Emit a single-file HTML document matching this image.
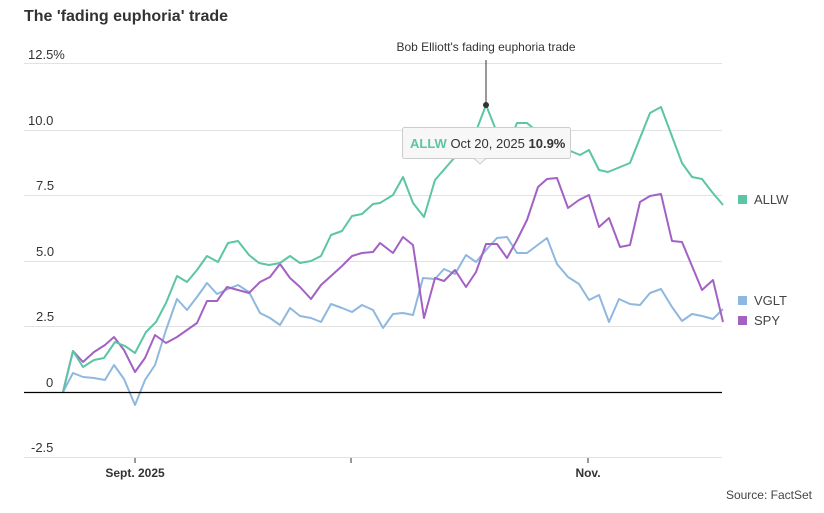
<!DOCTYPE html>
<html><head><style>
body{margin:0;background:#fff;width:824px;height:508px;overflow:hidden;font-family:"Liberation Sans",sans-serif}
</style></head><body>
<svg width="824" height="508" xmlns="http://www.w3.org/2000/svg" font-family="Liberation Sans, sans-serif">
<text x="24" y="21" font-size="16" font-weight="bold" fill="#333">The 'fading euphoria' trade</text>
<g stroke="#e2e2e2" stroke-width="1">
<line x1="24" x2="722" y1="63.5" y2="63.5"/><line x1="24" x2="722" y1="130.5" y2="130.5"/>
<line x1="24" x2="722" y1="195.5" y2="195.5"/><line x1="24" x2="722" y1="261.5" y2="261.5"/>
<line x1="24" x2="722" y1="326.5" y2="326.5"/><line x1="24" x2="722" y1="457.5" y2="457.5"/>
</g>
<g font-size="13" fill="#333">
<text x="28" y="59">12.5%</text><text x="28" y="125">10.0</text><text x="36" y="190">7.5</text>
<text x="36" y="256">5.0</text><text x="36" y="321">2.5</text><text x="46" y="387">0</text><text x="31" y="452">-2.5</text>
</g>
<g stroke="#333"><line x1="135" x2="135" y1="458" y2="463"/><line x1="351" x2="351" y1="458" y2="463"/><line x1="588" x2="588" y1="458" y2="463"/></g>
<g font-size="12" font-weight="bold" fill="#333"><text x="135" y="477" text-anchor="middle">Sept. 2025</text><text x="588" y="477" text-anchor="middle">Nov.</text></g>
<text x="812" y="499" font-size="12" fill="#444" text-anchor="end">Source: FactSet</text>
<g fill="none" stroke-width="2" stroke-linejoin="round">
<polyline stroke="#8fb8e0" points="63,392 73,373 83,377 94,378 105,380 114,365 124,379 135,405 145,380 155,365 166,330 177,299 187,310 197,297 207,283 217,294 228,289 238,285 249,292 260,313 270,318 280,325 290,308 300,316 311,318 321,322 331,304 342,308 352,312 362,305 373,310 383,328 393,314 403,313 413,315 423,278 435,279 444,269 455,274 466,255 476,262 486,250 497,238 507,237 517,253 527,253 547,238 557,264 568,277 579,284 589,300 599,295 609,322 619,299 630,304 640,305 650,293 661,289 672,307 682,321 692,314 702,316 713,319 723,309"/>
<polyline stroke="#a361c4" points="63,392 73,351 83,362 94,352 105,345 114,337 124,350 135,372 145,358 155,335 166,343 177,337 187,330 197,323 207,301 217,301 227,287 238,290 249,293 260,282 270,277 280,264 290,278 300,287 311,299 321,285 331,276 342,266 352,256 362,253 373,252 380,243 393,253 403,237 413,245 424,318 435,278 444,281 455,270 466,287 476,272 486,244 497,244 507,258 517,240 527,220 538,187 547,179 557,178 568,208 579,200 589,195 599,227 609,218 620,247 630,245 640,202 650,196 661,194 672,241 682,242 692,266 702,290 713,280 723,322"/>
<polyline stroke="#5cc5a5" points="63,392 73,351 83,367 94,360 104,358 115,342 125,346 135,353 146,332 156,322 166,303 177,276 187,282 197,270 207,256 218,262 228,243 238,241 249,255 259,263 269,265 280,263 290,256 300,263 311,261 321,256 331,235 342,231 352,216 362,214 373,204 380,203 393,195 403,177 413,203 424,217 435,180 455,157 465,146 475,134 486,105 496,130 507,147 517,123 527,123 533,128 548,143 568,150 580,155 589,150 599,170 608,172 630,163 650,113 661,107 682,163 692,177 702,179 712,192 723,205"/>
</g>
<line x1="24" x2="722" y1="392.5" y2="392.5" stroke="#000" stroke-width="1.3"/>
<line x1="486" x2="486" y1="60" y2="105" stroke="#333" stroke-width="1"/>
<circle cx="486" cy="105" r="3" fill="#333"/>
<text x="486" y="51" font-size="12" fill="#333" text-anchor="middle">Bob Elliott's fading euphoria trade</text>
<rect x="402.5" y="127.5" width="168" height="31" rx="2" fill="#f7f7f7" stroke="#ccc"/>
<path d="M474,158.5 L480,164 L486,158.5" fill="#f7f7f7" stroke="#ccc"/>
<text x="410" y="148" font-size="13" fill="#333"><tspan fill="#5cc5a5" font-weight="bold">ALLW</tspan> Oct 20, 2025 <tspan font-weight="bold">10.9%</tspan></text>
<rect x="738" y="195" width="9" height="9" fill="#5cc5a5"/><text x="754" y="204" font-size="13" fill="#444">ALLW</text>
<rect x="738" y="296" width="9" height="9" fill="#8fb8e0"/><text x="754" y="305" font-size="13" fill="#444">VGLT</text>
<rect x="738" y="316" width="9" height="9" fill="#a361c4"/><text x="754" y="325" font-size="13" fill="#444">SPY</text>
</svg>
</body></html>
